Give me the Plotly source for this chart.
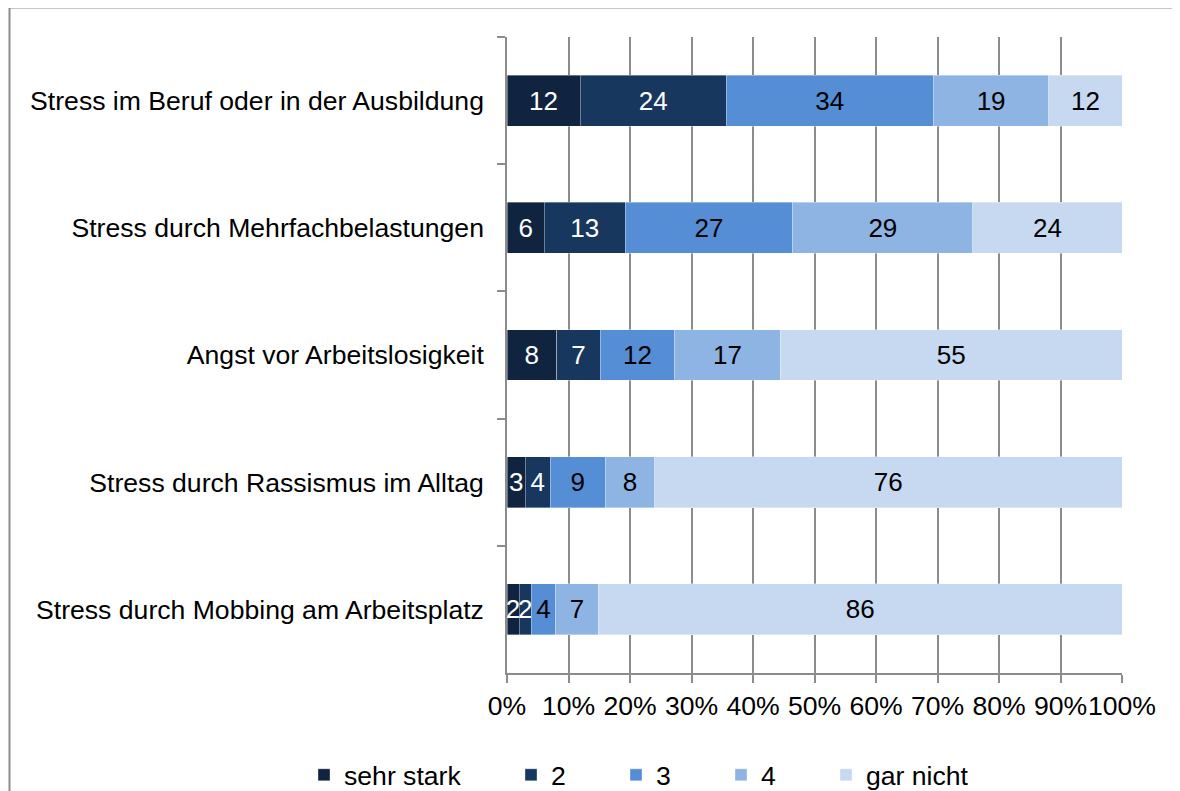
import plotly.graph_objects as go

categories = [
    "Stress im Beruf oder in der Ausbildung",
    "Stress durch Mehrfachbelastungen",
    "Angst vor Arbeitslosigkeit",
    "Stress durch Rassismus im Alltag",
    "Stress durch Mobbing am Arbeitsplatz",
]
series_names = ["sehr stark", "2", "3", "4", "gar nicht"]
sehr_stark = [12, 6, 8, 3, 2]
s2 = [24, 13, 7, 4, 2]
s3 = [34, 27, 12, 9, 4]
s4 = [19, 29, 17, 8, 7]
gar_nicht = [12, 24, 55, 76, 86]
x_ticks = [0, 10, 20, 30, 40, 50, 60, 70, 80, 90, 100]
x_tick_labels = [f"{v}%" for v in x_ticks]

colors = ["#10243F", "#17375E", "#558ED5", "#8EB4E3", "#C6D9F1"]
text_colors = ["white", "white", "black", "black", "black"]
all_values = [sehr_stark, s2, s3, s4, gar_nicht]

# page has an 8px body margin; target coordinates are screen pixels
OFF = 8
W, H = 1180 - OFF, 791 - OFF
L, R, T, B = 507 - OFF, 1122 - OFF, 37 - OFF, 673 - OFF
pw, ph = R - L, B - T

def px_x(px):
    return (px - OFF - L) / pw

def px_y(py):
    return (B - (py - OFF)) / ph

FONT = "Liberation Sans, Arial, sans-serif"
FS = 26
FS_TICK = 26.6
GRID = "#8C8C8C"

fig = go.Figure()
legend_ids = ["legend", "legend2", "legend3", "legend4", "legend5"]
for i, (name, vals) in enumerate(zip(series_names, all_values)):
    fig.add_trace(go.Bar(
        y=categories, x=vals, name=name, orientation="h",
        marker=dict(color=colors[i], line=dict(color="rgba(255,255,255,0.6)", width=0.6)),
        text=[str(v) for v in vals],
        textposition="inside", insidetextanchor="middle", textangle=0,
        textfont=dict(color=text_colors[i], size=FS, family=FONT),
        hoverinfo="skip",
        legend=legend_ids[i],
    ))

marker_lefts = [317, 524, 629, 734, 839]
legend_layouts = {}
for i, lid in enumerate(legend_ids):
    legend_layouts[lid] = dict(
        x=px_x(marker_lefts[i] - 13), xanchor="left",
        y=px_y(775), yanchor="middle",
        orientation="h", font=dict(size=FS_TICK, family=FONT, color="black"),
        bgcolor="rgba(0,0,0,0)", borderwidth=0,
        itemclick=False, itemdoubleclick=False,
    )

fig.update_layout(
    width=W, height=H,
    margin=dict(l=L, r=W - R, t=T, b=H - B, pad=0, autoexpand=False),
    paper_bgcolor="white", plot_bgcolor="white",
    barmode="stack", barnorm="percent", bargap=0.6,
    font=dict(family=FONT, size=FS, color="black"),
    uniformtext=dict(mode="show", minsize=FS),
    showlegend=True,
    **legend_layouts,
    xaxis=dict(
        range=[0, 100], tickmode="array", tickvals=x_ticks, ticktext=x_tick_labels,
        tickangle=0,
        showgrid=True, gridcolor=GRID, gridwidth=1.5,
        showline=True, linecolor=GRID, linewidth=1.5,
        ticks="outside", ticklen=8, tickcolor=GRID, tickwidth=1.5,
        ticklabelstandoff=0,
        zeroline=False, fixedrange=True,
        tickfont=dict(size=FS_TICK, family=FONT, color="black"),
    ),
    yaxis=dict(
        autorange="reversed", showgrid=False,
        showline=True, linecolor=GRID, linewidth=1.5,
        ticks="outside", ticklen=8, tickcolor=GRID, tickwidth=1.5,
        tickson="boundaries", ticklabelstandoff=16,
        zeroline=False, fixedrange=True,
        tickfont=dict(size=FS_TICK, family=FONT, color="black"),
    ),
    shapes=[
        dict(type="line", xref="paper", yref="paper",
             x0=px_x(9.5), x1=px_x(1200), y0=px_y(7.5), y1=px_y(7.5),
             line=dict(color="#8C8C8C", width=2)),
        dict(type="line", xref="paper", yref="paper",
             x0=px_x(9.5), x1=px_x(9.5), y0=px_y(7.5), y1=px_y(820),
             line=dict(color="#8C8C8C", width=2)),
    ],
)

fig.write_html("out.html")
